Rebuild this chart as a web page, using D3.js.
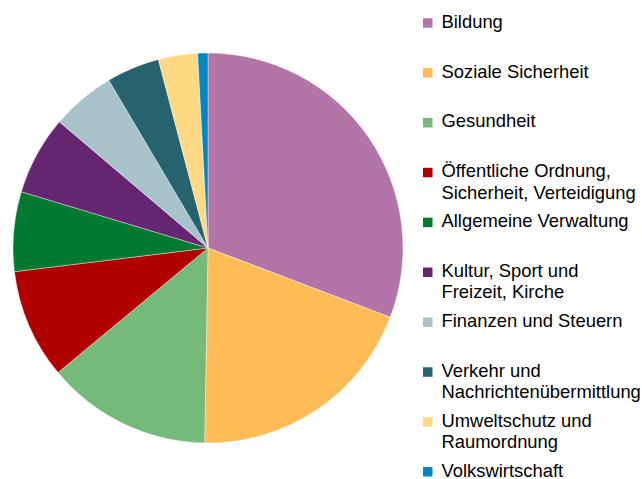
<!DOCTYPE html>
<html>
<head>
<meta charset="utf-8">
<script src="https://cdn.jsdelivr.net/npm/d3@7"></script>
<style>
  body { margin: 0; background: #fff; }
  svg { display: block; }
  text { font-family: "Liberation Sans", Arial, sans-serif; fill: #000; }
</style>
</head>
<body>
<div id="chart"></div>
<script>
/**
 * DATA
 * */
const categories = [
  "Bildung",
  "Soziale Sicherheit",
  "Gesundheit",
  "Öffentliche Ordnung,|Sicherheit, Verteidigung",
  "Allgemeine Verwaltung",
  "Kultur, Sport und|Freizeit, Kirche",
  "Finanzen und Steuern",
  "Verkehr und|Nachrichtenübermittlung",
  "Umweltschutz und|Raumordnung",
  "Volkswirtschaft"
];
const values = [30.8, 19.5, 13.7, 9.1, 6.6, 6.55, 5.3, 4.4, 3.25, 0.85];
const colors = ["#b375a8", "#ffbb56", "#75b97b", "#b00000", "#007a30",
  "#652570", "#a8c4ca", "#26636f", "#ffd983", "#0087c3"];

/**
 * CONSTANTS
 * */
const width = 642,
  height = 479,
  cx = 208,
  cy = 248,
  radius = 195;

const svg = d3.select("#chart")
  .append("svg")
  .attr("width", width)
  .attr("height", height);

const data = categories.map((c, i) => ({ name: c, value: values[i], color: colors[i] }));

// pie in original order, clockwise from top
const pie = d3.pie()
  .value(d => d.value)
  .sort(null);

const arc = d3.arc()
  .innerRadius(0)
  .outerRadius(radius);

svg.append("g")
  .attr("transform", `translate(${cx}, ${cy})`)
  .selectAll("path")
  .data(pie(data))
  .join("path")
  .attr("d", arc)
  .attr("fill", d => d.data.color)
  .attr("stroke", "#fff")
  .attr("stroke-width", 0.4);

// legend
const legendY = d3.scalePoint()
  .domain(categories)
  .range([27.7, 476.5])

const item = svg.selectAll(".legend")
  .data(data)
  .join("g")
  .attr("class", "legend")
  .attr("transform", d => `translate(423, ${legendY(d.name)})`);

item.append("rect")
  .attr("x", 0)
  .attr("y", -9.5)
  .attr("width", 9.5)
  .attr("height", 9.5)
  .attr("fill", d => d.color);

item.append("text")
  .attr("x", 18.5)
  .style("font-size", "18.4px")
  .selectAll("tspan")
  .data(d => d.name.split("|"))
  .join("tspan")
  .attr("x", 18.5)
  .attr("y", (d, i) => i * 21.3)
  .text(d => d);
</script>
</body>
</html>
